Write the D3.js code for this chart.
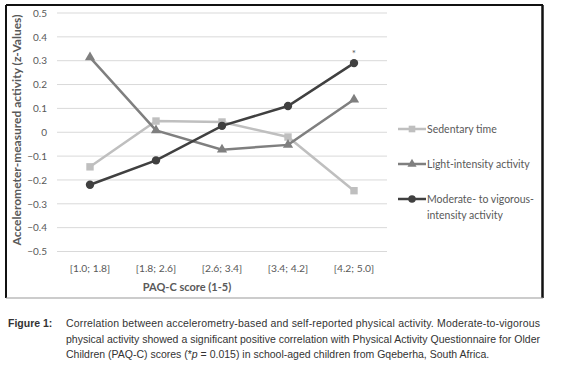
<!DOCTYPE html>
<html><head><meta charset="utf-8">
<script src="https://cdn.jsdelivr.net/npm/d3@7"></script>
<style>body{margin:0;background:#fff}svg{display:block}</style>
</head><body>
<svg id="c" width="562" height="371"></svg>
<script>
const categories = ["[1.0; 1.8]", "[1.8; 2.6]", "[2.6; 3.4]", "[3.4; 4.2]", "[4.2; 5.0]"];
const sedentary = [-0.145, 0.047, 0.043, -0.02, -0.245];
const lightIntensity = [0.314, 0.008, -0.073, -0.053, 0.137];
const mvpa = [-0.22, -0.118, 0.027, 0.11, 0.29];
const yTicks = [0.5, 0.4, 0.3, 0.2, 0.1, 0, -0.1, -0.2, -0.3, -0.4, -0.5];
const seriesNames = ["Sedentary time", "Light-intensity activity", "Moderate- to vigorous-|intensity activity"];
const captionLabel = "Figure 1:";
const captionLines = [
  "Correlation between accelerometry-based and self-reported physical activity. Moderate-to-vigorous",
  "physical activity showed a significant positive correlation with Physical Activity Questionnaire for Older",
  "Children (PAQ-C) scores (*|p| = 0.015) in school-aged children from Gqeberha, South Africa."
];

const svg = d3.select("#c");
const font = "Lato, 'Open Sans', sans-serif";
// frame
svg.append("line").attr("x1",6).attr("x2",543).attr("y1",5).attr("y2",5).attr("stroke","#111").attr("stroke-width",2);
svg.append("line").attr("x1",6).attr("x2",6).attr("y1",5).attr("y2",298).attr("stroke","#111").attr("stroke-width",2);
svg.append("line").attr("x1",542.5).attr("x2",542.5).attr("y1",5).attr("y2",298).attr("stroke","#111").attr("stroke-width",2.5);
svg.append("line").attr("x1",6).attr("x2",543).attr("y1",298).attr("y2",298).attr("stroke","#999").attr("stroke-width",1);

const x = d3.scaleBand().domain(categories).range([57, 387]);
const y = d3.scaleLinear().domain([-0.5, 0.5]).range([251.5, 13]);

const g = svg.append("g");
g.selectAll(".grid").data(yTicks).join("line")
  .attr("x1",57).attr("x2",387).attr("y1",d=>y(d)).attr("y2",d=>y(d))
  .attr("stroke","#d9d9d9").attr("stroke-width",1);

const yAxis = g.append("g").attr("transform","translate(57,0)")
  .call(d3.axisLeft(y).tickValues(yTicks).tickSize(0).tickPadding(10).tickFormat(d=>d===0?"0":d3.format(".1f")(d)));
yAxis.select(".domain").remove();
yAxis.selectAll("text").attr("fill","#595959").style("font-family",font).style("font-size","10px");

const xAxis = g.append("g").attr("transform","translate(0,265)")
  .call(d3.axisBottom(x).tickSize(0).tickPadding(0));
xAxis.select(".domain").remove();
xAxis.selectAll("text").attr("fill","#595959").style("font-family",font).style("font-size","10.3px");

svg.append("text").attr("x",187).attr("y",291).attr("text-anchor","middle")
  .attr("fill","#595959").style("font-family",font).style("font-size","11px").style("font-weight","bold")
  .text("PAQ-C score (1-5)");
svg.append("text").attr("transform","translate(21,130) rotate(-90)").attr("text-anchor","middle")
  .attr("fill","#595959").style("font-family",font).style("font-size","12px").style("font-weight","bold")
  .text("Accelerometer-measured activity (z-Values)");

const series = [
  {vals: sedentary, color:"#bfbfbf", shape: d3.symbolSquare, size: 55},
  {vals: lightIntensity, color:"#7f7f7f", shape: d3.symbolTriangle, size: 45},
  {vals: mvpa, color:"#404040", shape: d3.symbolCircle, size: 55}
];
const cx = c => x(c) + x.bandwidth()/2;
const line = d3.line().x((d,i)=>cx(categories[i])).y(d=>y(d));
series.forEach(s=>{
  g.append("path").datum(s.vals).attr("d",line).attr("fill","none").attr("stroke",s.color).attr("stroke-width",2.5);
  g.selectAll(null).data(s.vals).join("path")
    .attr("transform",(d,i)=>`translate(${cx(categories[i])},${y(d)})`)
    .attr("d",d3.symbol().type(s.shape).size(s.size)).attr("fill",s.color);
});
svg.append("text").attr("x",cx(categories[4])).attr("y",y(mvpa[4])-6).attr("text-anchor","middle")
  .attr("fill","#595959").style("font-family",font).style("font-size","10px").text("*");

// legend
const legY = [129, 164, 199];
series.forEach((s,i)=>{
  const lg = svg.append("g").attr("transform",`translate(398,${legY[i]})`);
  lg.append("line").attr("x1",0).attr("x2",28).attr("stroke",s.color).attr("stroke-width",2.5);
  lg.append("path").attr("transform","translate(14,0)").attr("d",d3.symbol().type(s.shape).size(s.size*0.8)).attr("fill",s.color);
  const parts = seriesNames[i].split("|");
  parts.forEach((p,j)=>{
    lg.append("text").attr("x",29).attr("y",4+j*15.5).attr("fill","#595959")
      .style("font-family",font).style("font-size","10.5px").text(p);
  });
});

// caption
const capFont = "'Liberation Sans Narrow', 'Arial Narrow', 'Liberation Sans', sans-serif";
svg.append("text").attr("x",8).attr("y",327).attr("fill","#333")
  .style("font-family",capFont).style("font-size","10.5px").style("font-weight","bold").text(captionLabel);
captionLines.forEach((t,i)=>{
  const tx = svg.append("text").attr("x",66).attr("y",327+i*15.7).attr("fill","#333")
    .style("font-family",capFont).style("font-size","10.5px");
  t.split("|").forEach((p,k)=>{
    tx.append("tspan").style("font-style",k===1?"italic":"normal").text(p);
  });
  if(i<2) tx.attr("textLength",474).attr("lengthAdjust","spacing");
});
</script>
</body></html>
